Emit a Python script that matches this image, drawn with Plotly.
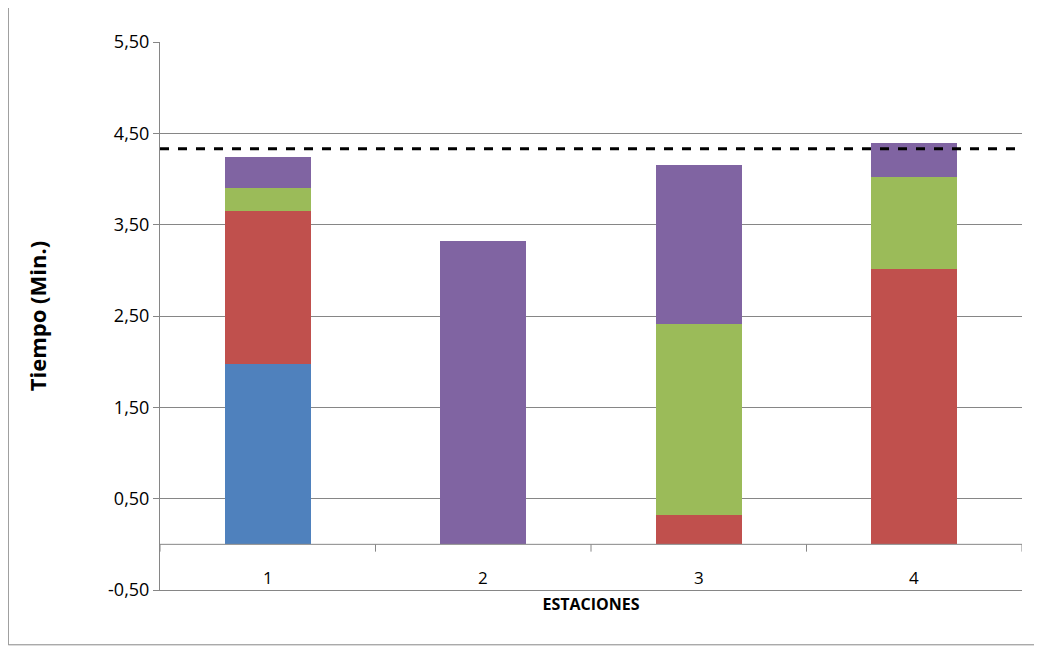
import plotly.graph_objects as go

estaciones = [1, 2, 3, 4]
azul = [1.97, 0, 0, 0]
rojo = [1.68, 0, 0.32, 3.01]
verde = [0.25, 0, 2.09, 1.01]
morado = [0.34, 3.32, 1.74, 0.37]
ciclo = 4.33
y_ticks = [-0.5, 0.5, 1.5, 2.5, 3.5, 4.5, 5.5]
y_labels = ["-0,50", "0,50", "1,50", "2,50", "3,50", "4,50", "5,50"]

colores = ["#4F81BD", "#C0504D", "#9BBB59", "#8064A2"]

fig = go.Figure()
for serie, col in zip([azul, rojo, verde, morado], colores):
    fig.add_trace(go.Bar(x=estaciones, y=serie, marker_color=col, width=0.4,
                         marker_line_width=0, showlegend=False))

fig.add_shape(type="line", xref="paper", x0=0, x1=1, y0=ciclo, y1=ciclo,
              line=dict(color="black", width=3, dash="dash"))
fig.add_shape(type="line", xref="paper", x0=0, x1=1, y0=0, y1=0,
              line=dict(color="#868686", width=1))
for xb in [0.5, 1.5, 2.5, 3.5, 4.5]:
    fig.add_shape(type="line", x0=xb, x1=xb, y0=0, y1=-0.08,
                  line=dict(color="#868686", width=1))
for e in estaciones:
    fig.add_annotation(x=e, y=-0.36, text=str(e), showarrow=False,
                       font=dict(size=17, color="black"))
# outer border
fig.add_shape(type="rect", xref="paper", yref="paper", x0=-0.176, x1=1.016,
              y0=-0.1, y1=1.0675, line=dict(color="#868686", width=1))

fig.update_layout(
    barmode="stack",
    width=1042, height=649,
    margin=dict(l=152, r=28, t=34, b=67),
    plot_bgcolor="white", paper_bgcolor="white",
    font=dict(family="Open Sans", size=16, color="black"),
    xaxis=dict(range=[0.5, 4.5], showticklabels=False, showgrid=False,
               showline=True, linecolor="#868686", mirror=False, zeroline=False,
               title=dict(text="<b>ESTACIONES</b>", font=dict(size=16), standoff=8)),
    yaxis=dict(range=[-0.5, 5.5], tickvals=y_ticks, ticktext=y_labels,
               showgrid=True, gridcolor="#868686", zeroline=False,
               showline=True, linecolor="#868686", ticks="outside", ticklen=6,
               tickcolor="#868686", tickfont=dict(size=18),
               title=dict(text="<b>Tiempo (Min.)</b>", font=dict(size=22), standoff=55)),
)

fig.write_html("out.html")
